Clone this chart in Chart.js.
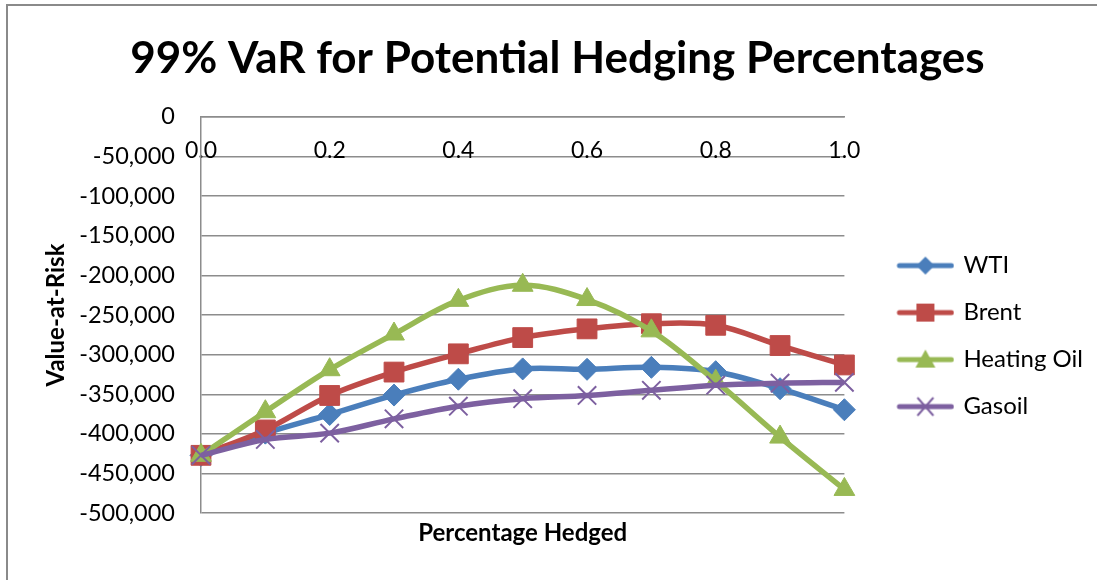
<!DOCTYPE html>
<html>
<head>
<meta charset="utf-8">
<script src="https://cdn.jsdelivr.net/npm/chart.js@4.4.1/dist/chart.umd.min.js"></script>
<style>
  html, body { margin: 0; padding: 0; background: #fff; overflow: hidden; }
  #frame {
    position: absolute; left: 6px; top: 4px; width: 1200px; height: 700px;
    border-left: 2px solid #8a8a8a; border-top: 2px solid #8a8a8a;
  }
  #wrap { position: absolute; left: 0; top: 0; width: 1097px; height: 580px; }
</style>
</head>
<body>
<div id="frame"></div>
<div id="wrap"><canvas id="chart"></canvas></div>
<script>
// hedge ratios on the category axis
const hedgeRatios = ['0.0', '0.1', '0.2', '0.3', '0.4', '0.5', '0.6', '0.7', '0.8', '0.9', '1.0'];

// 99% VaR per product
const wti        = [-427000, -399000, -375500, -351000, -331000, -318000, -318500, -316000, -321500, -343000, -369500];
const brent      = [-427000, -395000, -351500, -322000, -299000, -278500, -267500, -261000, -263000, -288500, -313000];
const heatingOil = [-427000, -372000, -319000, -274000, -231500, -212500, -230500, -270000, -333500, -404000, -470000];
const gasoil     = [-427000, -407000, -399000, -381000, -365000, -355500, -351500, -345000, -338500, -336000, -335000];

const FONT = "Lato, 'Open Sans', sans-serif";
const GRID = '#8c8c8c';

// line + marker icon for the legend (left part left blank as spacing)
const legendIcon = (color, shape) => {
  const c = document.createElement('canvas');
  c.width = 90; c.height = 24;
  const g = c.getContext('2d');
  const cx = 61, cy = 12;
  g.strokeStyle = color; g.fillStyle = color;
  g.lineWidth = 5; g.lineCap = 'round';
  g.beginPath(); g.moveTo(35, cy); g.lineTo(87, cy); g.stroke();
  g.beginPath();
  if (shape === 'diamond') {
    g.moveTo(cx, cy - 9); g.lineTo(cx + 9, cy); g.lineTo(cx, cy + 9); g.lineTo(cx - 9, cy); g.closePath(); g.fill();
  } else if (shape === 'square') {
    g.fillRect(cx - 9, cy - 9, 18, 18);
  } else if (shape === 'triangle') {
    g.moveTo(cx, cy - 10); g.lineTo(cx + 10, cy + 8); g.lineTo(cx - 10, cy + 8); g.closePath(); g.fill();
  } else {
    g.lineWidth = 2; g.lineCap = 'butt';
    g.moveTo(cx - 8, cy - 9); g.lineTo(cx + 8, cy + 9); g.moveTo(cx + 8, cy - 9); g.lineTo(cx - 8, cy + 9); g.stroke();
  }
  return c;
};

const series = [
  { label: 'WTI', data: wti, color: '#4a7ebb', style: 'rectRot', icon: 'diamond', radius: 11, order: 4 },
  { label: 'Brent', data: brent, color: '#be4b48', style: 'rect', icon: 'square', radius: 14, order: 3 },
  { label: 'Heating Oil', data: heatingOil, color: '#98b954', style: 'triangle', icon: 'triangle', radius: 12, order: 2 },
  { label: 'Gasoil', data: gasoil, color: '#7d60a0', style: 'crossRot', icon: 'cross', radius: 13, order: 1 }
];

const icons = series.map(s => legendIcon(s.color, s.icon));

new Chart(document.getElementById('chart'), {
  type: 'line',
  data: {
    labels: hedgeRatios,
    datasets: series.map(s => ({
      label: s.label,
      data: s.data,
      borderColor: s.color,
      backgroundColor: s.color,
      borderWidth: 5.5,
      tension: 0.35,
      pointStyle: s.style,
      pointRadius: s.radius,
      pointHoverRadius: s.radius,
      pointBorderColor: s.color,
      pointBackgroundColor: s.color,
      pointBorderWidth: s.style === 'crossRot' ? 2 : 1,
      order: s.order,
      clip: false
    }))
  },
  options: {
    responsive: true,
    maintainAspectRatio: false,
    animation: false,
    layout: { padding: { left: 22, right: 4, top: 0, bottom: 0 } },
    plugins: {
      title: {
        display: true,
        text: '99% VaR for Potential Hedging Percentages',
        color: '#000',
        font: { family: FONT, size: 44, weight: 'bold' },
        padding: { top: 32, bottom: 32 }
      },
      subtitle: {
        display: true,
        position: 'bottom',
        fullSize: false,
        text: 'Percentage Hedged',
        color: '#000',
        font: { family: FONT, size: 24, weight: 'bold' },
        padding: { top: 6, bottom: 32 }
      },
      legend: {
        position: 'right',
        // blank legend title only pushes the entries down to where Excel puts them
        title: { display: true, text: ' ', font: { size: 1 }, padding: { top: 91, bottom: 0 } },
        labels: {
          usePointStyle: true,
          pointStyleWidth: 84,
          padding: 23,
          color: '#000',
          font: { family: FONT, size: 24 },
          sort: (a, b) => a.datasetIndex - b.datasetIndex,
          generateLabels: (chart) => Chart.defaults.plugins.legend.labels.generateLabels(chart)
            .map(item => Object.assign(item, { pointStyle: icons[item.datasetIndex] }))
        }
      },
      tooltip: { enabled: false }
    },
    scales: {
      x: {
        position: { y: 0 },
        offset: false,
        grid: { display: false, drawTicks: false },
        border: { display: true, color: GRID, width: 1.5 },
        ticks: {
          autoSkip: false,
          maxRotation: 0,
          padding: 20,
          color: '#000',
          font: { family: FONT, size: 23 },
          callback: (v, i) => (i % 2 === 0 ? hedgeRatios[i] : '')
        }
      },
      y: {
        min: -500000,
        max: 0,
        afterFit: (scale) => { scale.width = 179; },
        grid: { color: GRID, lineWidth: 1.5, drawTicks: false },
        border: { display: true, color: GRID, width: 1.5 },
        ticks: {
          stepSize: 50000,
          padding: 26,
          color: '#000',
          font: { family: FONT, size: 23.5 },
          callback: (v) => v.toLocaleString('en-US')
        },
        title: {
          display: true,
          text: 'Value-at-Risk',
          color: '#000',
          font: { family: FONT, size: 24, weight: 'bold' },
          padding: { top: 20, bottom: 0 }
        }
      }
    }
  }
});
</script>
</body>
</html>
